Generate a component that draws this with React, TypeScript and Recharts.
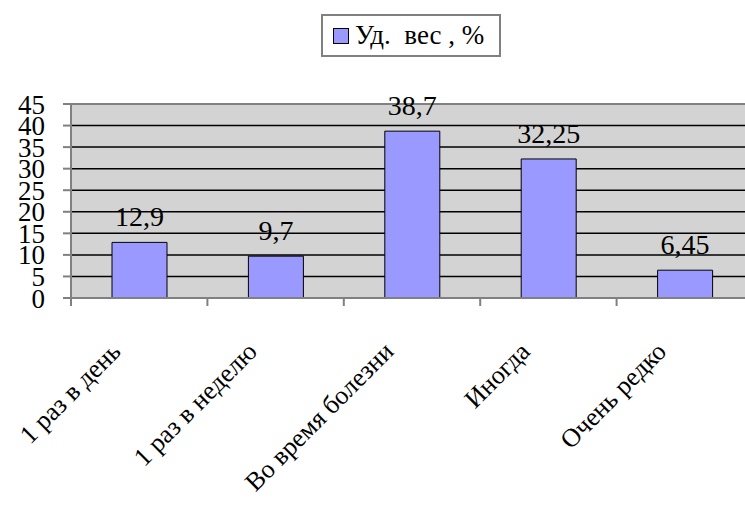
import { BarChart, Bar, XAxis, YAxis, CartesianGrid, LabelList, ReferenceLine } from 'recharts';

const categories = ['1 раз в день', '1 раз в неделю', 'Во время болезни', 'Иногда', 'Очень редко'];
const shares = [12.9, 9.7, 38.7, 32.25, 6.45];
const yTicks = [0, 5, 10, 15, 20, 25, 30, 35, 40, 45];
const seriesName = 'Уд.  вес , %';

const data = categories.map((name, i) => ({ name, value: shares[i] }));

const FONT = "'Liberation Serif', 'Times New Roman', Times, 'DejaVu Serif', serif";
const BAND = 136.4;

const XTick = (props: any) => {
  const { x, y, payload } = props;
  const tx = x - 17;
  const ty = y + 55;
  return (
    <g>
      <line x1={x - BAND / 2} x2={x - BAND / 2} y1={y} y2={y + 8} stroke="#808080" strokeWidth={2} />
      <text
        x={tx}
        y={ty}
        transform={`rotate(-45 ${tx} ${ty})`}
        textAnchor="end"
        fontSize={26}
        style={{ fontFamily: FONT }}
        fill="#000"
      >
        {payload.value}
      </text>
    </g>
  );
};

const LegendBox = () => (
  <div
    style={{
      position: 'absolute',
      left: 321,
      top: 14,
      border: '2px solid #808080',
      width: 180,
      height: 43,
      boxSizing: 'border-box',
      display: 'flex',
      alignItems: 'center',
      fontFamily: FONT,
      fontSize: 27,
      color: '#000',
      background: '#fff',
    }}
  >
    <span
      style={{
        display: 'inline-block',
        width: 14,
        height: 14,
        background: '#9999ff',
        border: '1px solid #000',
        marginLeft: 10,
        marginRight: 6,
      }}
    />
    <span style={{ whiteSpace: 'pre' }}>{seriesName}</span>
  </div>
);

export default function App() {
  return (
    <div style={{ position: 'absolute', left: 0, top: 0, width: 745, height: 505, overflow: 'hidden', background: '#fff', fontFamily: FONT }}>
      <BarChart width={753} height={505} data={data} margin={{ top: 104, right: 0, left: 0, bottom: 0 }} barSize={55}>
        <CartesianGrid vertical={false} stroke="#000" strokeWidth={1.5} fill="#d3d3d3" fillOpacity={1} />
        <ReferenceLine y={45} stroke="#808080" strokeWidth={2} />
        <XAxis
          dataKey="name"
          height={207}
          tickLine={false}
          tickSize={0}
          tickMargin={0}
          axisLine={{ stroke: '#808080', strokeWidth: 2 }}
          interval={0}
          tick={<XTick />}
        />
        <YAxis
          width={71}
          domain={[0, 45]}
          ticks={yTicks}
          interval={0}
          axisLine={{ stroke: '#808080', strokeWidth: 2 }}
          tickLine={{ stroke: '#808080', strokeWidth: 2 }}
          tickSize={8}
          tickMargin={18}
          tick={{ fontSize: 27, fill: '#000', style: { fontFamily: FONT } }}
        />
        <Bar dataKey="value" name={seriesName} fill="#9999ff" stroke="#000" strokeWidth={1} isAnimationActive={false}>
          <LabelList
            dataKey="value"
            position="top"
            offset={16}
            formatter={(v: any) => String(v).replace('.', ',')}
            style={{ fontSize: 28, fontFamily: FONT, fill: '#000' }}
          />
        </Bar>
      </BarChart>
      <LegendBox />
    </div>
  );
}
